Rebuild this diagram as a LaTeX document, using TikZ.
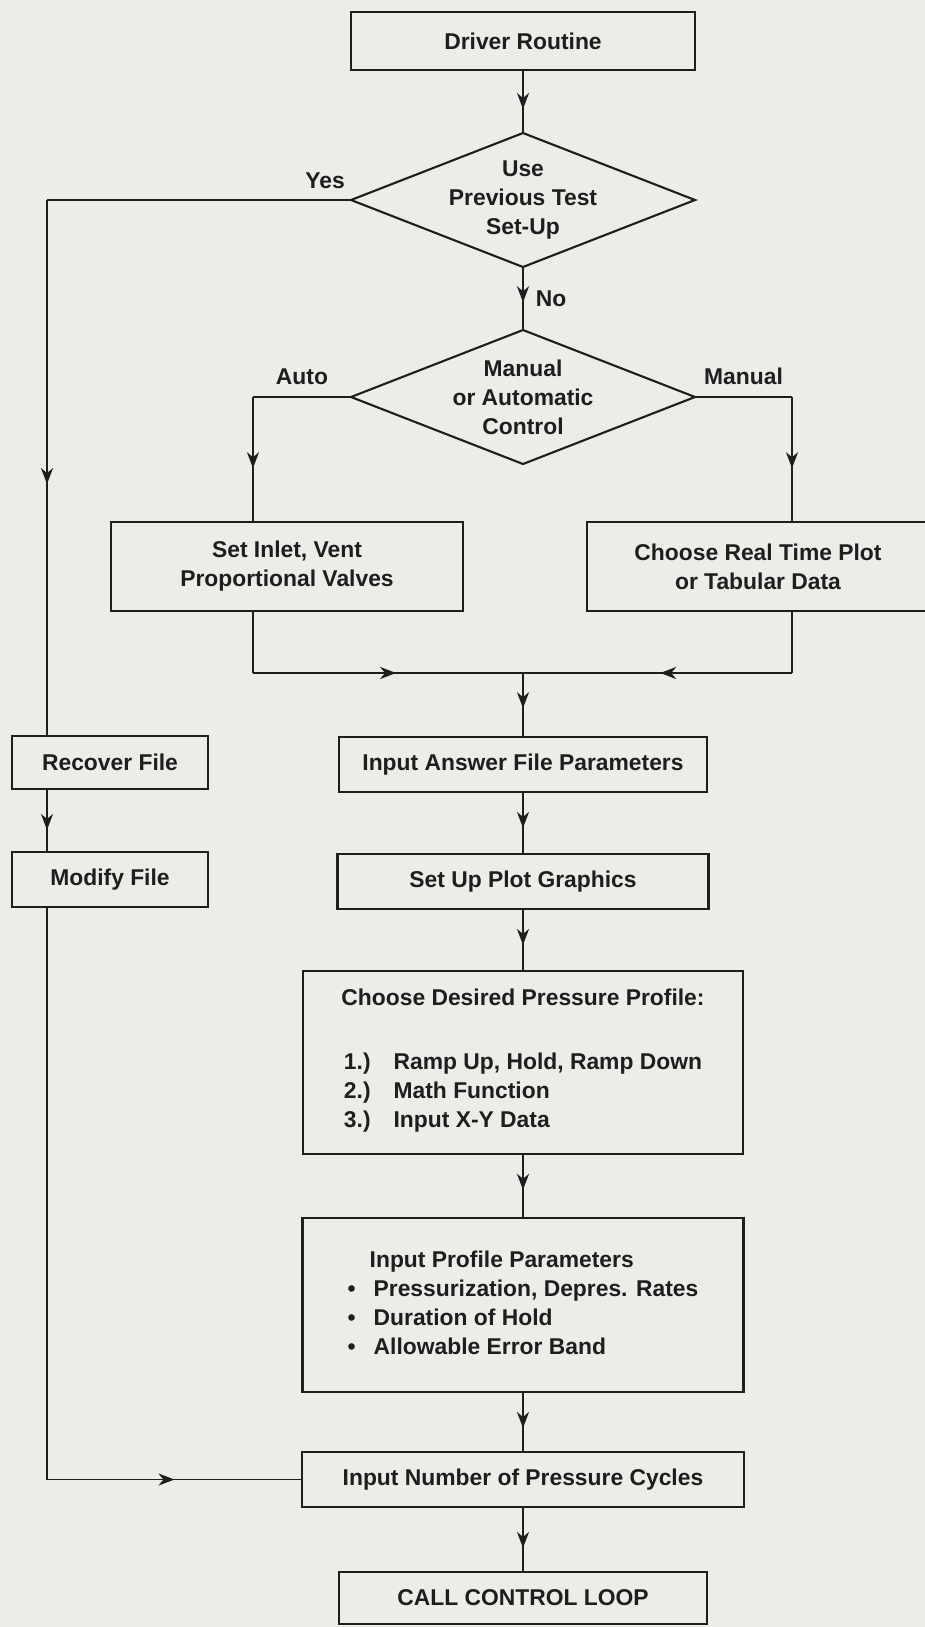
\documentclass[tikz,border=0pt]{standalone}
\usepackage{fontspec}
\setmainfont{Liberation Sans}
\usepackage{xcolor}
\usetikzlibrary{shapes.geometric, arrows.meta, positioning, decorations.markings}

\definecolor{paper}{RGB}{236,236,233}
\definecolor{ink}{RGB}{30,30,30}

\begin{document}
\begin{tikzpicture}[
  x=0.2mm, y=-0.2mm,
  color=ink,
  font=\fontsize{13}{16.5}\selectfont\bfseries,
  box/.style={rectangle, draw=ink, line width=1.25pt, align=center, inner sep=0pt, outer sep=0pt},
  decision/.style={diamond, draw=ink, line width=1.2pt, inner sep=0pt, outer sep=0pt,
                   minimum width=68.8mm, minimum height=26.8mm},
  line/.style={draw=ink, line width=1.1pt},
  flow/.style={line, postaction={decorate},
               decoration={markings, mark=at position #1 with
                 {\arrow{Stealth[length=3.2mm, width=2.4mm, inset=1mm]}}}},
  flow/.default=0.6,
  tag/.style={inner sep=0pt}
]
\useasboundingbox (0,0) rectangle (925,1627);
\clip (0,0) rectangle (925,1627);
\fill[paper] (0,0) rectangle (925,1627);

\coordinate (leftrail) at (47,0);
\coordinate (autorail) at (253,0);
\coordinate (manrail) at (792,0);
\coordinate (merge) at (523,673);

\node[box, minimum width=68.8mm, minimum height=11.6mm] (driver) at (523,41) {Driver Routine};
\node[decision, below=12.6mm of driver] (prevsetup) {};
\node[align=center] (prevsetuptxt) at (prevsetup) {Use\\Previous Test\\Set-Up};
\node[decision, below=12.6mm of prevsetup] (mode) {};
\node[align=center] (modetxt) at (mode) {Manual\\or Automatic\\Control};

\node[box, minimum width=70.4mm, minimum height=17.8mm] (setvalves) at (287,566.5)
  {Set Inlet, Vent\\Proportional Valves};
\node[box, minimum width=68.4mm, minimum height=17.8mm] (plotmode) at (758,566.5)
  {Choose Real Time Plot\\or Tabular Data};

\node[box, minimum width=39.2mm, minimum height=10.6mm] (recover) at (110,762.5) {Recover File};
\node[box, minimum width=39.2mm, minimum height=11mm, below=12.6mm of recover] (modify) {Modify File};

\node[box, minimum width=73.6mm, minimum height=11mm] (answerfile) at (523,764.5)
  {Input Answer File Parameters};
\node[box, minimum width=74.2mm, minimum height=11mm, below=12.4mm of answerfile] (plotgfx)
  {Set Up Plot Graphics};
\node[box, minimum width=88mm, minimum height=36.6mm, below=12.4mm of plotgfx] (profile) {%
  Choose Desired Pressure Profile:\\[7mm]
  \begin{tabular}[t]{@{}l@{\hspace{4.6mm}}l@{}}
    1.) & Ramp Up, Hold, Ramp Down\\
    2.) & Math Function\\
    3.) & Input X-Y Data
  \end{tabular}};
\node[box, minimum width=88.2mm, minimum height=34.8mm, below=12.8mm of profile] (profparams) {%
  \begin{tabular}[t]{@{}l@{\hspace{3.6mm}}l@{}}
    \multicolumn{2}{@{}l@{}}{\hspace{4.4mm}Input Profile Parameters}\\
    \textbullet & Pressurization, Depres. Rates\\
    \textbullet & Duration of Hold\\
    \textbullet & Allowable Error Band
  \end{tabular}};
\node[box, minimum width=88.4mm, minimum height=11mm, below=12mm of profparams] (cycles)
  {Input Number of Pressure Cycles};
\node[box, minimum width=73.6mm, minimum height=10.4mm, below=13mm of cycles] (callloop)
  {CALL CONTROL LOOP};

\draw[flow=0.62] (driver) -- (prevsetup);
\draw[flow=0.56] (prevsetup) -- node[tag, right=2.4mm] (notag) {No} (mode);

\draw[line] (prevsetup.west) -- node[tag, above=2mm, pos=0.085] (yestag) {Yes} (prevsetup.west -| leftrail);
\draw[flow=0.53] (prevsetup.west -| leftrail) -- (recover.north -| leftrail);
\draw[flow=0.65] (recover.south -| leftrail) -- (modify.north -| leftrail);
\draw[line] (modify.south -| leftrail) -- (cycles.west -| leftrail);
\draw[flow=0.5] (cycles.west -| leftrail) -- (cycles.west);

\draw[line] (mode.west) -- node[tag, above=2.2mm] (autotag) {Auto} (mode.west -| autorail);
\draw[flow=0.57] (mode.west -| autorail) -- (setvalves.north -| autorail);
\draw[line] (mode.east) -- node[tag, above=2.2mm] (mantag) {Manual} (mode.east -| manrail);
\draw[flow=0.57] (mode.east -| manrail) -- (plotmode.north -| manrail);

\draw[line] (setvalves.south -| autorail) -- (merge -| autorail);
\draw[flow=0.53] (merge -| autorail) -- (merge);
\draw[line] (plotmode.south -| manrail) -- (merge -| manrail);
\draw[flow=0.49] (merge -| manrail) -- (merge);
\draw[flow=0.55] (merge) -- (answerfile);

\draw[flow=0.58] (answerfile) -- (plotgfx);
\draw[flow=0.58] (plotgfx) -- (profile);
\draw[flow=0.56] (profile) -- (profparams);
\draw[flow=0.6] (profparams) -- (cycles);
\draw[flow=0.63] (cycles) -- (callloop);
\end{tikzpicture}
\end{document}
